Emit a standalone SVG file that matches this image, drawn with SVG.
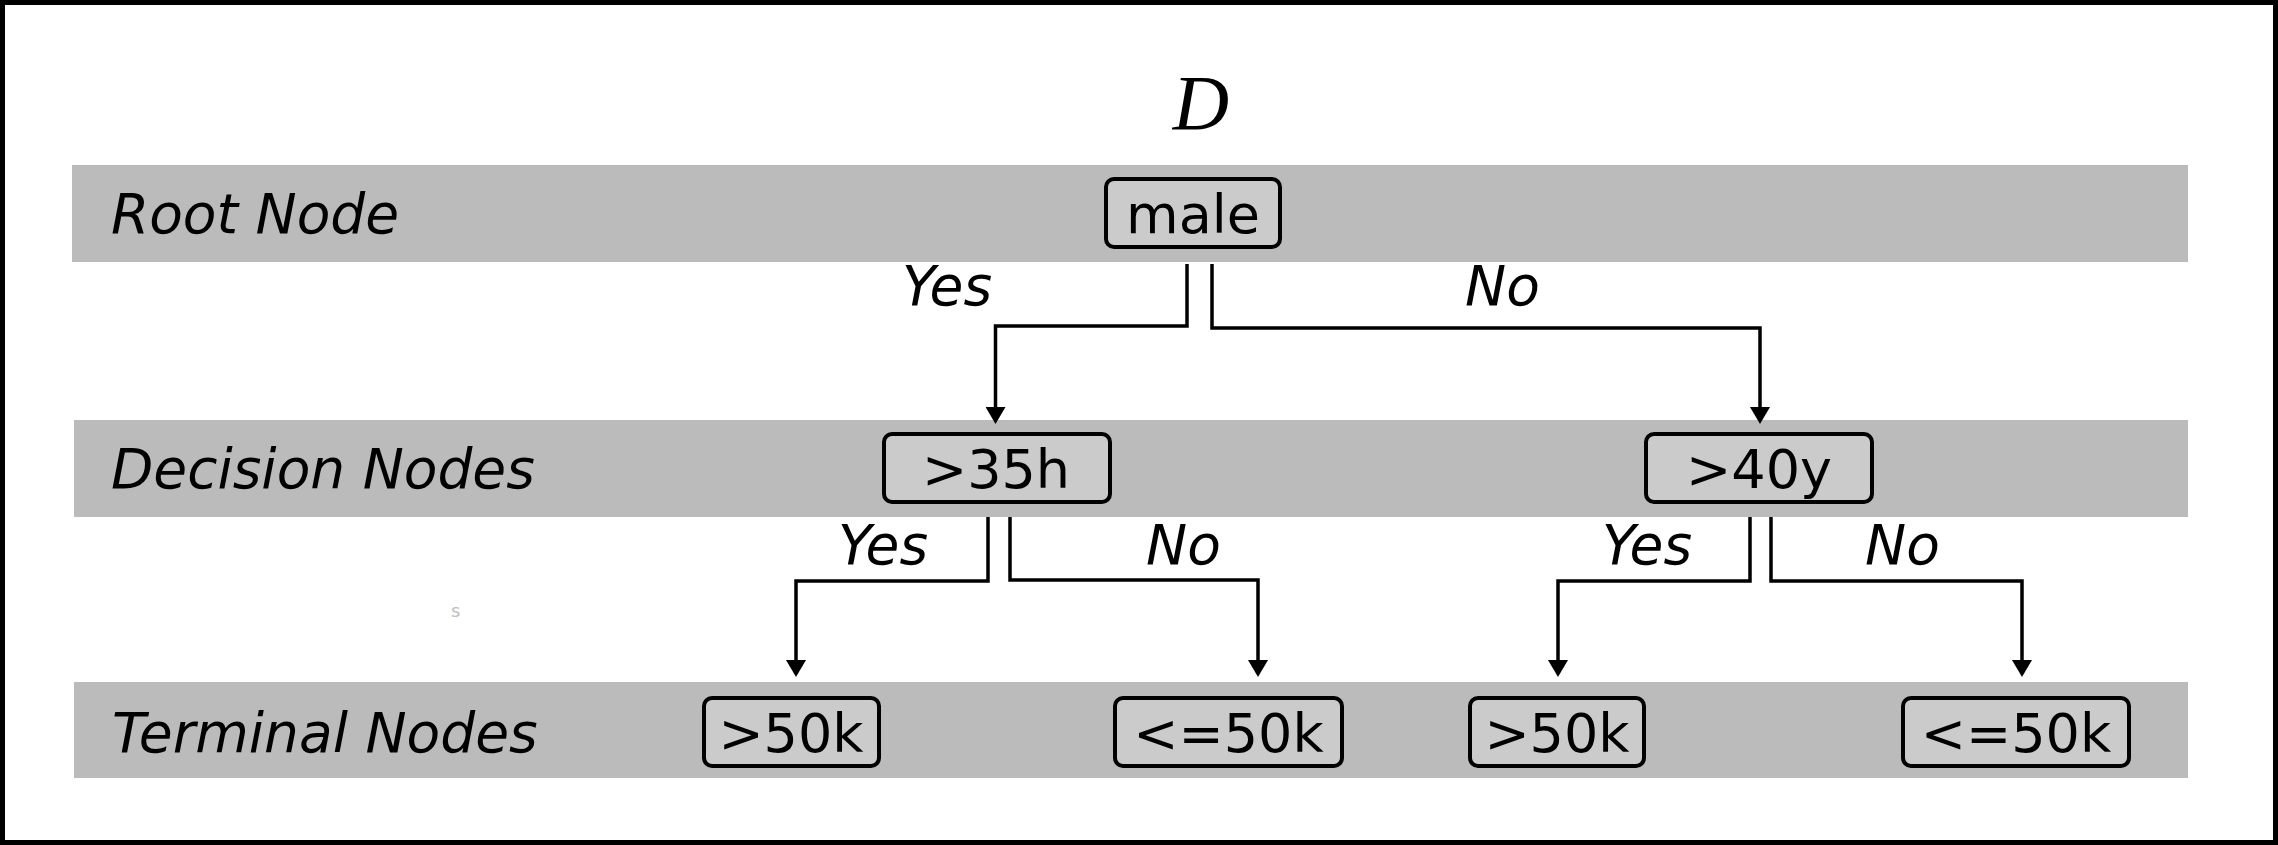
<svg xmlns="http://www.w3.org/2000/svg" width="2278" height="845" viewBox="0 0 2278 845">
<style>
.band{fill:#bbbbbb}
.box{fill:#cbcbcb;stroke:#000;stroke-width:4}
.bt{font-family:"DejaVu Sans",Verdana,sans-serif;font-size:54px;fill:#000;text-anchor:middle}
.lbl{font-family:"DejaVu Sans",Verdana,sans-serif;font-size:55px;font-style:italic;fill:#000}
.conn{fill:none;stroke:#000;stroke-width:3.5}
</style>
<defs>
<marker id="arr" viewBox="0 0 17 20" refX="0" refY="10" markerWidth="17" markerHeight="20" markerUnits="userSpaceOnUse" orient="auto">
<path d="M0,0 L17,10 L0,20 z" fill="#000"/>
</marker>
</defs>
<rect x="0" y="0" width="2278" height="845" fill="#fff"/>
<rect x="2.5" y="2.5" width="2273" height="840" fill="none" stroke="#000" stroke-width="5"/>
<g id="bands">
<rect class="band" x="72" y="165" width="2116" height="97"/>
<rect class="band" x="74" y="420" width="2114" height="97"/>
<rect class="band" x="74" y="682" width="2114" height="96"/>
<text class="lbl" x="111" y="233">Root Node</text>
<text class="lbl" x="111" y="488">Decision Nodes</text>
<text class="lbl" x="112" y="752">Terminal Nodes</text>
</g>
<text id="title" x="1201" y="129" font-family="'Liberation Serif','Times New Roman',serif" font-style="italic" font-size="78" text-anchor="middle">D</text>
<text x="451" y="617" font-family="'DejaVu Sans',sans-serif" font-size="18" fill="#c0c0c0">s</text>
<g id="connectors">
<path class="conn" d="M1187,264 V326 H995.5 V407" marker-end="url(#arr)"/>
<path class="conn" d="M1212,264 V328 H1760 V407" marker-end="url(#arr)"/>
<path class="conn" d="M988,517 V581 H796 V660" marker-end="url(#arr)"/>
<path class="conn" d="M1010,517 V580 H1258 V660" marker-end="url(#arr)"/>
<path class="conn" d="M1750,517 V581 H1558 V660" marker-end="url(#arr)"/>
<path class="conn" d="M1771,517 V581 H2022 V660" marker-end="url(#arr)"/>
<text class="lbl" x="902" y="305">Yes</text>
<text class="lbl" x="1465" y="305">No</text>
<text class="lbl" x="838" y="564">Yes</text>
<text class="lbl" x="1146" y="564">No</text>
<text class="lbl" x="1602" y="564">Yes</text>
<text class="lbl" x="1865" y="564">No</text>
</g>
<g id="node-male">
<rect class="box" x="1106" y="179" width="174" height="68" rx="8"/>
<text class="bt" x="1193" y="233">male</text>
</g>
<g id="node-35h">
<rect class="box" x="884" y="434" width="226" height="68" rx="8"/>
<text class="bt" x="996" y="488">&gt;35h</text>
</g>
<g id="node-40y">
<rect class="box" x="1646" y="434" width="226" height="68" rx="8"/>
<text class="bt" x="1759" y="488">&gt;40y</text>
</g>
<g id="node-t1">
<rect class="box" x="704" y="698" width="175" height="68" rx="8"/>
<text class="bt" x="791" y="752">&gt;50k</text>
</g>
<g id="node-t2">
<rect class="box" x="1115" y="698" width="227" height="68" rx="8"/>
<text class="bt" x="1228.5" y="752">&lt;=50k</text>
</g>
<g id="node-t3">
<rect class="box" x="1470" y="698" width="174" height="68" rx="8"/>
<text class="bt" x="1557" y="752">&gt;50k</text>
</g>
<g id="node-t4">
<rect class="box" x="1903" y="698" width="226" height="68" rx="8"/>
<text class="bt" x="2016" y="752">&lt;=50k</text>
</g>
</svg>
